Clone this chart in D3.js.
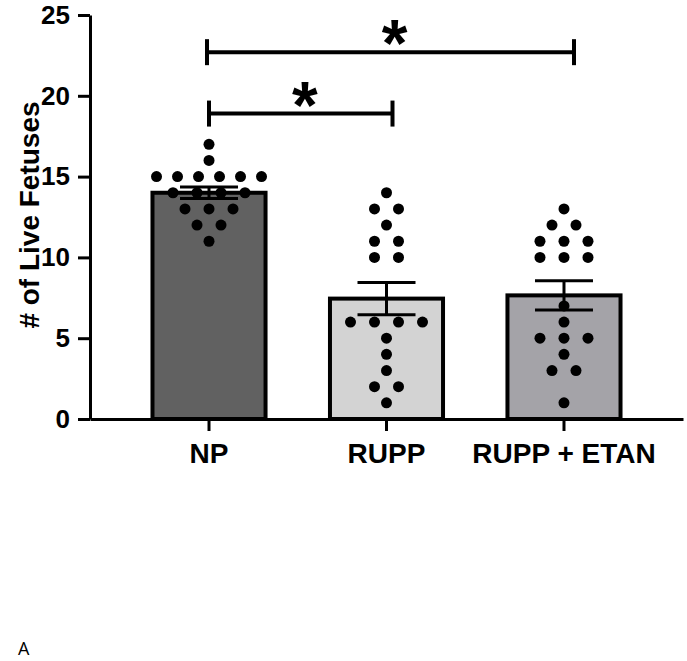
<!DOCTYPE html>
<html>
<head>
    <meta charset="UTF-8">
    <style>
        * { margin: 0; padding: 0; }
        body { background-color: #fff; }
        #chart { background-color: #fff; display: block; }
        .axis path, .axis line { stroke: #000; stroke-width: 3px; }
        .axis text { font-family: "Liberation Sans", Arial, sans-serif; font-weight: bold; fill: #000; }
    </style>
    <script src="https://d3js.org/d3.v7.min.js"></script>
    <title>Live fetuses</title>
</head>
<body>
<svg id="chart" width="687" height="661"></svg>
<script>
    // data
    var groups = ["NP", "RUPP", "RUPP + ETAN"];
    var means = [14.0, 7.45, 7.65];
    var sems = [0.35, 1.0, 0.9];
    var npValues = [17, 16, 15, 15, 15, 15, 15, 15, 14, 14, 14, 14, 13, 13, 13, 12, 12, 11];
    var ruppValues = [14, 13, 13, 12, 11, 11, 10, 10, 6, 6, 6, 6, 5, 4, 3, 2, 2, 1];
    var etanValues = [13, 12, 12, 11, 11, 11, 10, 10, 10, 7, 6, 5, 5, 5, 4, 3, 3, 1];
    var yTicks = [0, 5, 10, 15, 20, 25];
    var fills = ["#616161", "#d3d3d3", "#a4a3a8"];
    var comparisons = [
        { a: 0, b: 1, level: 18.9, nudge: [0, 6] },
        { a: 0, b: 2, level: 22.7, nudge: [-2, 10] }
    ];

    var allValues = [npValues, ruppValues, etanValues];

    var svg = d3.select("#chart");

    var x = d3.scaleBand().domain(groups).range([90, 683])
        .paddingInner(0.363).paddingOuter(0.352);
    var y = d3.scaleLinear().domain([0, 25]).range([419, 15]);

    function cx(i) { return x(groups[i]) + x.bandwidth() / 2; }

    // bars
    svg.selectAll(".bar")
        .data(groups)
        .enter()
        .append("rect")
        .attr("class", "bar")
        .attr("x", function(d) { return x(d); })
        .attr("y", function(d, i) { return y(means[i]); })
        .attr("width", x.bandwidth())
        .attr("height", function(d, i) { return y(0) - y(means[i]); })
        .attr("fill", function(d, i) { return fills[i]; })
        .attr("stroke", "#000")
        .attr("stroke-width", 4);

    // error bars
    var capHalf = 29;
    var eb = svg.selectAll(".err")
        .data(groups)
        .enter()
        .append("g")
        .attr("class", "err")
        .attr("stroke", "#000")
        .attr("stroke-width", 3);
    eb.append("line")
        .attr("x1", function(d, i) { return cx(i); })
        .attr("x2", function(d, i) { return cx(i); })
        .attr("y1", function(d, i) { return y(means[i] - sems[i]); })
        .attr("y2", function(d, i) { return y(means[i] + sems[i]); });
    eb.append("line")
        .attr("x1", function(d, i) { return cx(i) - capHalf; })
        .attr("x2", function(d, i) { return cx(i) + capHalf; })
        .attr("y1", function(d, i) { return y(means[i] + sems[i]); })
        .attr("y2", function(d, i) { return y(means[i] + sems[i]); });
    eb.append("line")
        .attr("x1", function(d, i) { return cx(i) - capHalf; })
        .attr("x2", function(d, i) { return cx(i) + capHalf; })
        .attr("y1", function(d, i) { return y(means[i] - sems[i]); })
        .attr("y2", function(d, i) { return y(means[i] - sems[i]); });

    // dots, spread sideways when values repeat
    var dots = [];
    allValues.forEach(function(vals, gi) {
        var rows = d3.group(vals, function(v) { return v; });
        rows.forEach(function(row, v) {
            var n = row.length;
            var gap = n > 1 ? Math.min(24, 105 / (n - 1)) : 0;
            row.forEach(function(r, k) {
                dots.push({ g: gi, v: v, off: (k - (n - 1) / 2) * gap });
            });
        });
    });
    svg.selectAll(".dot")
        .data(dots)
        .enter()
        .append("circle")
        .attr("class", "dot")
        .attr("cx", function(d) { return cx(d.g) + d.off; })
        .attr("cy", function(d) { return y(d.v); })
        .attr("r", 5.5)
        .attr("fill", "#000");

    // axes
    svg.append("g")
        .attr("class", "axis")
        .attr("transform", "translate(90,0)")
        .call(d3.axisLeft(y).tickValues(yTicks).tickFormat(d3.format("d"))
            .tickSize(12).tickSizeOuter(0).tickPadding(8))
        .selectAll("text")
        .attr("font-size", "26px");

    svg.append("g")
        .attr("class", "axis")
        .attr("transform", "translate(0,419)")
        .call(d3.axisBottom(x).tickSize(12).tickSizeOuter(0).tickPadding(12))
        .selectAll("text")
        .attr("font-size", "28px");

    svg.append("text")
        .attr("transform", "translate(39,215) rotate(-90)")
        .attr("text-anchor", "middle")
        .attr("font-family", "Liberation Sans, Arial, sans-serif")
        .attr("font-weight", "bold")
        .attr("font-size", "28px")
        .text("# of Live Fetuses");

    // significance brackets
    var br = svg.selectAll(".bracket")
        .data(comparisons)
        .enter()
        .append("g")
        .attr("class", "bracket")
        .attr("stroke", "#000")
        .attr("stroke-width", 4);
    br.append("line")
        .attr("x1", function(d) { return cx(d.a) + d.nudge[0]; })
        .attr("x2", function(d) { return cx(d.b) + d.nudge[1]; })
        .attr("y1", function(d) { return y(d.level); })
        .attr("y2", function(d) { return y(d.level); });
    br.append("line")
        .attr("x1", function(d) { return cx(d.a) + d.nudge[0]; })
        .attr("x2", function(d) { return cx(d.a) + d.nudge[0]; })
        .attr("y1", function(d) { return y(d.level) - 13; })
        .attr("y2", function(d) { return y(d.level) + 13; });
    br.append("line")
        .attr("x1", function(d) { return cx(d.b) + d.nudge[1]; })
        .attr("x2", function(d) { return cx(d.b) + d.nudge[1]; })
        .attr("y1", function(d) { return y(d.level) - 13; })
        .attr("y2", function(d) { return y(d.level) + 13; });
    svg.selectAll(".star")
        .data(comparisons)
        .enter()
        .append("text")
        .attr("class", "star")
        .attr("x", function(d) { return (cx(d.a) + d.nudge[0] + cx(d.b) + d.nudge[1]) / 2 + 4; })
        .attr("y", function(d) { return y(d.level) + 14; })
        .attr("text-anchor", "middle")
        .attr("font-family", "Liberation Sans, Arial, sans-serif")
        .attr("font-weight", "bold")
        .attr("font-size", "66px")
        .text("*");

    svg.append("text")
        .attr("x", 18)
        .attr("y", 655)
        .attr("font-family", "Open Sans, sans-serif")
        .attr("font-size", "18px")
        .text("A");
</script>
</body>
</html>
